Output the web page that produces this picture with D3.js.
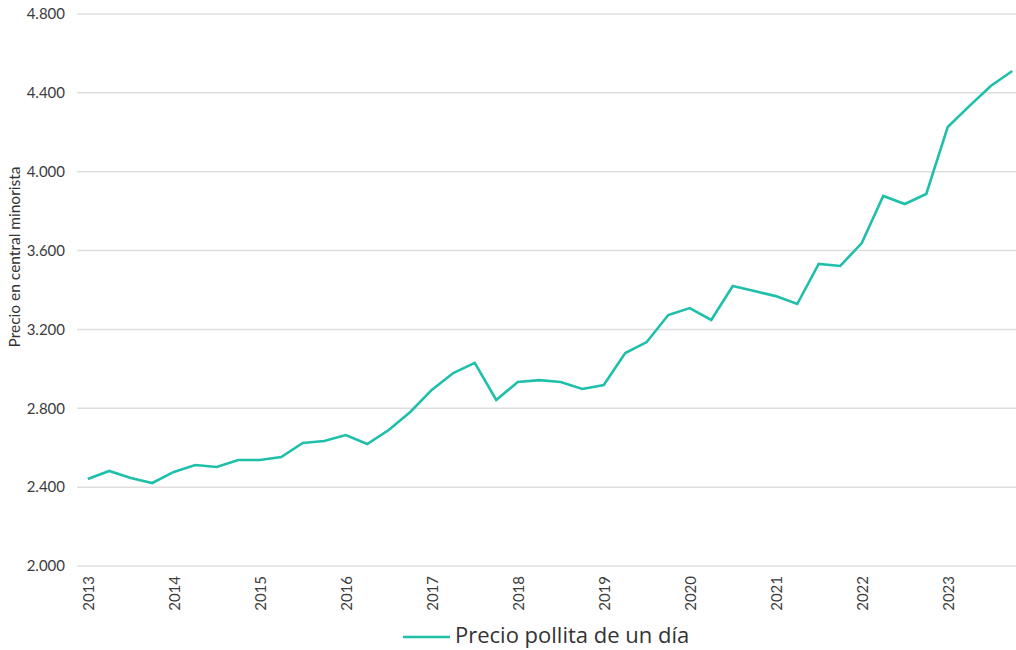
<!DOCTYPE html>
<html>
<head>
<meta charset="utf-8">
<script src="https://cdn.jsdelivr.net/npm/d3@7"></script>
<style>
  html, body { margin: 0; padding: 0; background: #fff; overflow: hidden; }
  #chart { width: 1016px; height: 650px; }
  .axis text { font-family: Lato, sans-serif; font-size: 15px; fill: #3c3c3c; }
  .axis path { display: none; }
  .grid line { stroke: #dedede; stroke-width: 1.5; }
  .y-title { font-family: Lato, sans-serif; font-size: 15.5px; fill: #333; }
  .legend text { font-family: "Open Sans", sans-serif; font-size: 22px; fill: #333; }
</style>
</head>
<body>
<div id="chart"></div>
<script>
  'use strict';
  // Precio pollita de un día, trimestral 2013-2023
  var years = [2013, 2014, 2015, 2016, 2017, 2018, 2019, 2020, 2021, 2022, 2023],
      quarters = ['T1', 'T2', 'T3', 'T4'],
      periods = [],
      values = [
        2441, 2482, 2446, 2421,
        2477, 2512, 2502, 2538,
        2538, 2553, 2624, 2634,
        2664, 2619, 2690, 2781,
        2893, 2979, 3030, 2842,
        2933, 2943, 2933, 2898,
        2918, 3080, 3136, 3273,
        3308, 3248, 3420, 3395,
        3369, 3329, 3532, 3522,
        3638, 3877, 3836, 3887,
        4227, 4333, 4435, 4511
      ],
      yTicks = [2000, 2400, 2800, 3200, 3600, 4000, 4400, 4800],
      seriesName = 'Precio pollita de un día',
      yTitle = 'Precio en central minorista';

  years.forEach(function(yr) {
    quarters.forEach(function(q) { periods.push(yr + '-' + q); });
  });
  var series = periods.map(function(p, i) { return [p, values[i]]; });

  var margin = {top: 14, left: 77},
      plotW = 946,
      plotH = 552,
      lineColor = '#1fbfaa';

  var svg = d3.select('#chart')
    .append('svg')
    .attr('width', 1016)
    .attr('height', 650);

  var g = svg.append('g')
    .attr('transform', 'translate(' + margin.left + ',' + margin.top + ')');

  var x = d3.scalePoint().domain(periods).range([0, plotW]).padding(0.5),
      y = d3.scaleLinear().domain([2000, 4800]).range([plotH, 0]);

  // grid lines
  g.append('g')
    .attr('class', 'grid')
    .selectAll('line')
    .data(yTicks)
    .enter().append('line')
    .attr('x1', 0)
    .attr('x2', plotW)
    .attr('y1', function(d) { return y(d); })
    .attr('y2', function(d) { return y(d); });

  // y axis, thousands with a dot
  g.append('g')
    .attr('class', 'axis axis-y')
    .call(d3.axisLeft(y).tickValues(yTicks).tickSize(0).tickPadding(12)
      .tickFormat(function(d) { return d3.format('.3f')(d / 1000); }));

  // x axis, year labels on first quarter
  g.append('g')
    .attr('class', 'axis axis-x')
    .attr('transform', 'translate(0,' + plotH + ')')
    .call(d3.axisBottom(x)
      .tickValues(periods.filter(function(p) { return /T1$/.test(p); }))
      .tickSize(0)
      .tickFormat(function(p) { return p.slice(0, 4); }))
    .selectAll('text')
    .attr('transform', 'rotate(-90)')
    .attr('text-anchor', 'end')
    .attr('dy', '0.35em')
    .attr('x', -10)
    .attr('y', 0);

  // y title
  svg.append('text')
    .attr('class', 'y-title')
    .attr('transform', 'translate(20,257) rotate(-90)')
    .attr('text-anchor', 'middle')
    .text(yTitle);

  // line
  var line = d3.line()
    .x(function(d) { return x(d[0]); })
    .y(function(d) { return y(d[1]); });

  g.append('path')
    .datum(series)
    .attr('fill', 'none')
    .attr('stroke', lineColor)
    .attr('stroke-width', 2.6)
    .attr('d', line);

  // legend
  var legend = svg.append('g')
    .attr('class', 'legend')
    .attr('transform', 'translate(403,635)');
  legend.append('line')
    .attr('x1', 0).attr('x2', 47)
    .attr('y1', 2).attr('y2', 2)
    .attr('stroke', lineColor)
    .attr('stroke-width', 2.6);
  legend.append('text')
    .attr('x', 52)
    .attr('dy', '0.35em')
    .text(seriesName);
</script>
</body>
</html>
